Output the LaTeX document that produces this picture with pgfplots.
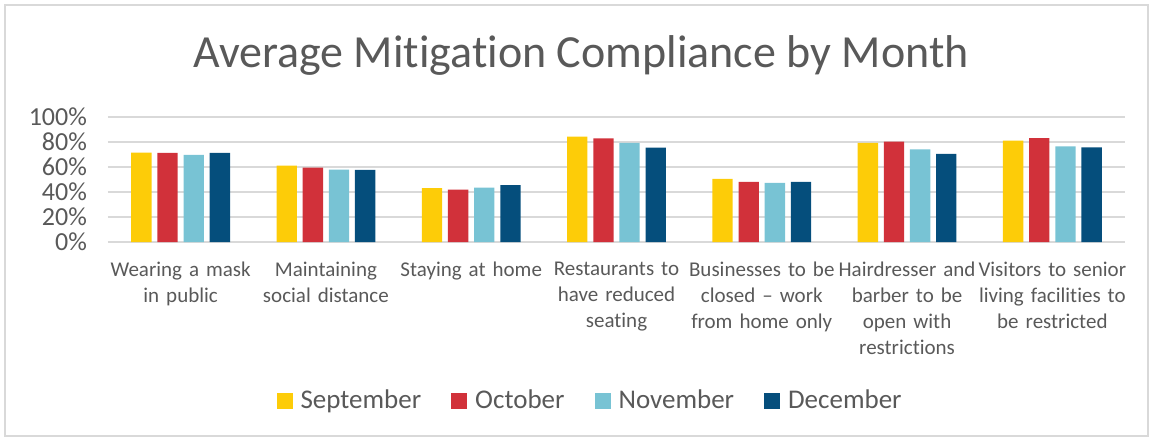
\documentclass[border=0pt]{standalone}
\usepackage{fontspec}
\setmainfont{Carlito}[Ligatures={NoCommon}]
\usepackage{pgfplots}
\pgfplotsset{compat=1.18}
\definecolor{cSep}{HTML}{FDCC08}
\definecolor{cOct}{HTML}{D1313A}
\definecolor{cNov}{HTML}{78C3D4}
\definecolor{cDec}{HTML}{054E7C}
\definecolor{txt}{HTML}{595959}
\definecolor{gridc}{HTML}{D9D9D9}
\begin{document}
\begin{tikzpicture}[x=1pt,y=1pt]
\useasboundingbox (0,0) rectangle (576.5,220.5);
\draw[gridc, line width=0.6pt] (2.5,2.5) rectangle (574,218);
\node[text=txt, font=\fontsize{23}{27}\selectfont] at (290.5,193) {Average Mitigation Compliance by Month};
\begin{axis}[
  at={(54pt,99.5pt)}, anchor=south west,
  scale only axis, width=508.5pt, height=62.5pt,
  ymin=0, ymax=100, ytick={0,20,40,60,80,100},
  yticklabel={\pgfmathprintnumber{\tick}\%},
  /pgf/number format/assume math mode=true,
  xmin=-0.5, xmax=6.5, xtick={0,1,2,3,4,5,6},
  xticklabels={{Wearing a mask\\in public},{Maintaining\\social distance},{Staying at home},{Restaurants to\\have reduced\\seating},{Businesses to be\\closed -- work\\from home only},{Hairdresser and\\barber to be\\open with\\restrictions},{Visitors to senior\\living facilities to\\be restricted}},
  xticklabel style={align=center, text=txt, font=\fontsize{10.5}{12.9}\selectfont, text width=75pt, anchor=north, yshift=-6.5pt},
  yticklabel style={text=txt, font=\fontsize{13}{15}\selectfont, xshift=-7pt},
  major tick length=0pt,
  axis line style={draw=none},
  ymajorgrids, grid style={gridc, line width=0.8pt},
  ybar, bar width=0.14,
  legend style={draw=none, legend columns=4, at={(0.475,-1.272)}, anchor=center,
    font=\fontsize{13.5}{15}\selectfont, text=txt,
    /tikz/every even column/.append style={column sep=13pt}},
  legend image code/.code={\fill[#1] (0pt,-4pt) rectangle (8pt,4pt); \path (10pt,0pt);},
]
\addplot[fill=cSep, draw=none, bar shift=-0.27] coordinates {(0,71.5) (1,61.2) (2,43.1) (3,84.3) (4,50.5) (5,79.3) (6,81.1)};
\addplot[fill=cOct, draw=none, bar shift=-0.09] coordinates {(0,71.3) (1,59.6) (2,42.0) (3,83.0) (4,48.1) (5,80.3) (6,83.2)};
\addplot[fill=cNov, draw=none, bar shift=0.09] coordinates {(0,69.7) (1,58.0) (2,43.6) (3,79.3) (4,47.3) (5,74.2) (6,76.6)};
\addplot[fill=cDec, draw=none, bar shift=0.27] coordinates {(0,71.3) (1,57.7) (2,45.5) (3,75.5) (4,48.1) (5,70.5) (6,75.8)};
\legend{September,October,November,December}
\end{axis}
\end{tikzpicture}
\end{document}
